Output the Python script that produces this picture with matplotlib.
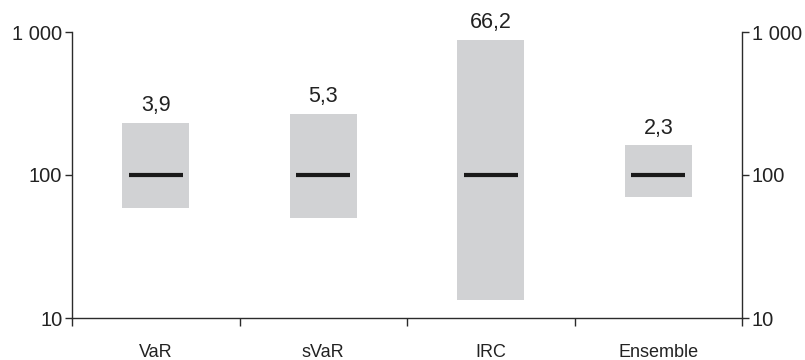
import matplotlib
matplotlib.use("Agg")
import matplotlib.pyplot as plt
from matplotlib.ticker import FixedLocator, NullLocator

plt.rcParams['font.family'] = ['Liberation Sans', 'DejaVu Sans']

categories = ["VaR", "sVaR", "IRC", "Ensemble"]
low = [59, 50, 13.3, 70]
high = [231, 266, 880, 161]
median = [100, 100, 100, 100]
ratio_labels = ["3,9", "5,3", "66,2", "2,3"]
ytick_values = [10, 100, 1000]
ytick_labels = ["10", "100", "1 000"]

axis_color = "#2b2b2b"
bar_color = "#d1d2d4"
text_color = "#222222"

fig = plt.figure(figsize=(8.05, 3.6), dpi=100)
ax = fig.add_axes([72 / 805, 42 / 360, 670 / 805, 286 / 360])

x = list(range(1, len(categories) + 1))
ax.bar(x, [h - l for h, l in zip(high, low)], bottom=low, width=0.4,
       color=bar_color, edgecolor="none", zorder=1)
ax.hlines(median, [i - 0.16 for i in x], [i + 0.16 for i in x],
          color="#1a1a1a", linewidth=3, zorder=2)
for xi, h, lab in zip(x, high, ratio_labels):
    ax.annotate(lab, (xi, h), xytext=(0, 8.5), textcoords="offset points",
                ha="center", va="baseline", fontsize=15.5, color=text_color)

ax.set_yscale("log")
ax.set_ylim(10, 1000)
ax.set_xlim(0.5, len(categories) + 0.5)

ax.yaxis.set_major_locator(FixedLocator(ytick_values))
ax.set_yticklabels(ytick_labels)
ax.yaxis.set_minor_locator(NullLocator())
ax.tick_params(axis="y", which="major", left=True, right=True,
               labelleft=True, labelright=True, length=5, width=1,
               color=axis_color, labelsize=14.5, labelcolor=text_color, pad=2)

ax.xaxis.set_major_locator(FixedLocator([i + 0.5 for i in range(len(categories) + 1)]))
ax.xaxis.set_major_formatter(plt.NullFormatter())
ax.xaxis.set_minor_locator(FixedLocator(x))
ax.set_xticklabels(categories, minor=True)
ax.tick_params(axis="x", which="major", length=6, width=1, color=axis_color)
ax.tick_params(axis="x", which="minor", length=0, labelsize=13,
               labelcolor=text_color, pad=18.5)

for side in ["left", "right", "bottom"]:
    ax.spines[side].set_color(axis_color)
    ax.spines[side].set_linewidth(1)
ax.spines["top"].set_visible(False)

fig.savefig("out.png", dpi=100, facecolor="white")
